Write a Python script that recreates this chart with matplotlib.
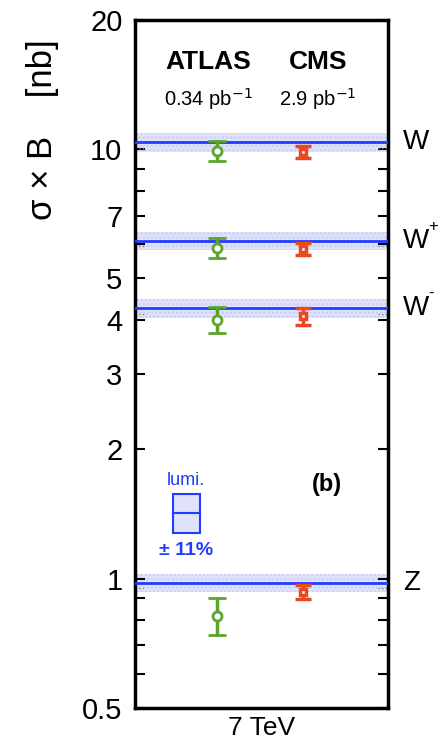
import matplotlib
matplotlib.use("Agg")
import matplotlib.pyplot as plt
import matplotlib.transforms as mtransforms
from matplotlib.patches import Rectangle
from matplotlib.ticker import FixedLocator, FixedFormatter, NullFormatter

plt.rcParams['font.family'] = ['Liberation Sans', 'DejaVu Sans']

# ---------------- data ----------------
process_base = ["W", "W", "W", "Z"]
process_sup = ["", "+", "-", ""]
theory = [10.37, 6.11, 4.26, 0.978]
theory_rel_unc = [0.05, 0.05, 0.05, 0.05]
theory_alt = [10.05, 5.93, 4.13, 0.95]

atlas_val = [9.89, 5.89, 4.00, 0.82]
atlas_err = [0.53, 0.31, 0.28, 0.08]
cms_val = [9.84, 5.85, 4.08, 0.93]
cms_err = [0.33, 0.18, 0.19, 0.035]

experiments = ["ATLAS", "CMS"]
lumis = ["0.34 pb$^{-1}$", "2.9 pb$^{-1}$"]
exp_x = [0.323, 0.665]
header_x = [0.289, 0.723]

lumi_center = 1.42
lumi_rel_unc = 0.11

ytick_vals = [0.5, 1, 2, 3, 4, 5, 7, 10, 20]
ytick_labels = ["0.5", "1", "2", "3", "4", "5", "7", "10", "20"]
yminor_vals = [0.6, 0.7, 0.8, 0.9, 6, 8, 9]

green = "#5ba42e"
red = "#e8491d"
blue = "#1f3cff"
band = "#dfe2fa"

# ---------------- figure ----------------
fig = plt.figure(figsize=(4.39, 7.45), dpi=100)
ax = fig.add_axes([0.3075, 0.0497, 0.5765, 0.924])
ax.set_yscale("log")
ax.set_ylim(0.5, 20)
ax.set_xlim(0, 1)

for t, r, ta in zip(theory, theory_rel_unc, theory_alt):
    ax.axhspan(t * (1 - r), t * (1 + r), facecolor=band, edgecolor="#c9cef5",
               hatch="....", lw=0, zorder=1)
    ax.axhline(t, color=blue, lw=2, zorder=3)
    ax.plot([0.0, 0.04], [ta, ta], ls=":", color="#888888", lw=1, zorder=2)
    ax.plot([0.96, 1.0], [ta, ta], ls=":", color="#888888", lw=1, zorder=2)

for v, e in zip(atlas_val, atlas_err):
    ax.errorbar([exp_x[0]], [v], yerr=[e], fmt="o", color=green, mfc="white",
                mec=green, mew=2, ms=6.5, elinewidth=2.5, capsize=6.5,
                capthick=3.5, zorder=5)
for v, e in zip(cms_val, cms_err):
    ax.errorbar([exp_x[1]], [v], yerr=[e], fmt="s", color=red, mfc="white",
                mec=red, mew=2.5, ms=5, elinewidth=2.5, capsize=5.5,
                capthick=3.5, zorder=5)

# lumi box
lo = lumi_center / (1 + lumi_rel_unc)
hi = lumi_center * (1 + lumi_rel_unc)
ax.add_patch(Rectangle((0.15, lo), 0.105, hi - lo, facecolor=band,
                       edgecolor=blue, lw=1.5, zorder=4))
ax.plot([0.15, 0.255], [lumi_center, lumi_center], color=blue, lw=1.5, zorder=4)
ax.text(0.2025, hi * 1.075, "lumi.", color=blue, fontsize=13, ha="center", va="center")
ax.text(0.2025, lo / 1.1, "± 11%", color=blue, fontsize=14, fontweight="bold",
        ha="center", va="center")

ax.text(0.76, 1.66, "(b)", fontsize=17, fontweight="bold", ha="center", va="center")

# headers
for hx, name, lum in zip(header_x, experiments, lumis):
    ax.text(hx, 0.938, name, transform=ax.transAxes, fontsize=19,
            fontweight="bold", ha="center", va="center")
    ax.text(hx, 0.884, lum, transform=ax.transAxes, fontsize=14.5,
            ha="center", va="center")

# right labels
trans = mtransforms.blended_transform_factory(ax.transAxes, ax.transData)
for b, s, t in zip(process_base, process_sup, theory):
    ax.text(1.06, t, b, transform=trans, fontsize=20, ha="left", va="center")
    if s:
        ax.annotate(s, xy=(1.06, t), xycoords=trans, xytext=(18, 5),
                    textcoords="offset points", fontsize=12,
                    ha="left", va="bottom", annotation_clip=False)

# axes styling
ax.yaxis.set_major_locator(FixedLocator(ytick_vals))
ax.yaxis.set_major_formatter(FixedFormatter(ytick_labels))
ax.yaxis.set_minor_locator(FixedLocator(yminor_vals))
ax.yaxis.set_minor_formatter(NullFormatter())
ax.tick_params(axis="y", which="both", direction="in", left=True, right=True,
               length=7, width=1.5, labelsize=21, pad=9)
ax.tick_params(axis="x", bottom=False, labelbottom=False)
for sp in ax.spines.values():
    sp.set_linewidth(2.5)

ax.set_ylabel("σ × B    [nb]", fontsize=25)
ax.yaxis.set_label_coords(-0.30, 0.84)
ax.set_xlabel("7 TeV", fontsize=19, labelpad=6)

fig.savefig("out.png", dpi=100)
